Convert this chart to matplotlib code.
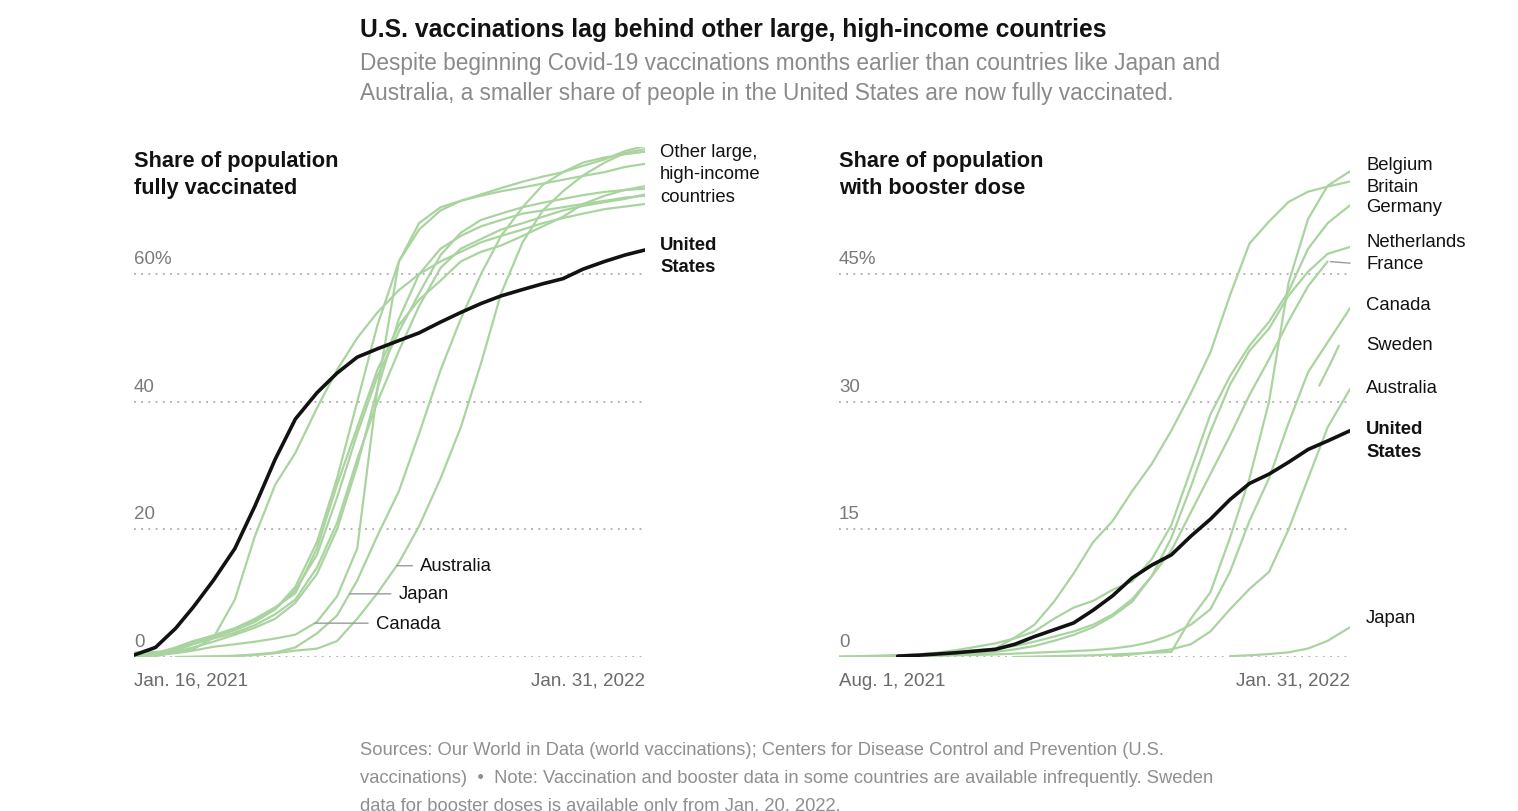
import matplotlib.pyplot as plt
import matplotlib.dates as mdates
import numpy as np
import pandas as pd

plt.rcParams['font.family'] = ['Liberation Sans', 'DejaVu Sans']

nan = np.nan

# ---- fully vaccinated (share of population, %) ----
full_dates = ['2021-01-16', '2021-02-01', '2021-02-16', '2021-03-01', '2021-03-16',
              '2021-04-01', '2021-04-16', '2021-05-01', '2021-05-16', '2021-06-01',
              '2021-06-16', '2021-07-01', '2021-07-16', '2021-08-01', '2021-08-16',
              '2021-09-01', '2021-09-16', '2021-10-01', '2021-10-16', '2021-11-01',
              '2021-11-16', '2021-12-01', '2021-12-16', '2022-01-01', '2022-01-16',
              '2022-01-31']
full_us = [0.3, 1.5, 4.5, 7.8, 12.0, 17.0, 23.7, 31.0, 37.3, 41.4, 44.5, 47.0, 48.3,
           49.6, 50.8, 52.5, 54.0, 55.4, 56.6, 57.6, 58.5, 59.3, 60.8, 62.0, 63.0, 63.8]
full_other = {
    'Britain': [0.7, 0.8, 0.9, 1.2, 3.0, 9.0, 19.0, 27.0, 32.0, 39.0, 45.0, 50.0, 54.0,
                57.5, 60.0, 62.0, 63.5, 65.0, 66.0, 67.0, 68.0, 68.8, 69.5, 70.2, 70.6, 71.0],
    'Canada': [0.1, 0.3, 0.6, 1.0, 1.6, 2.0, 2.4, 2.9, 3.5, 5.5, 9.5, 17.0, 42.0,
               62.0, 67.0, 70.0, 71.5, 72.5, 73.5, 74.5, 75.3, 76.0, 77.0, 78.0, 79.3, 80.1],
    'Japan': [nan, nan, 0.0, 0.05, 0.1, 0.2, 0.4, 0.7, 1.5, 3.7, 6.5, 12.0, 19.0,
              26.0, 35.0, 45.0, 53.0, 60.0, 66.0, 70.5, 74.0, 76.0, 77.5, 78.3, 78.8, 79.2],
    'Australia': [nan, nan, nan, 0.0, 0.05, 0.15, 0.3, 0.6, 1.0, 1.3, 2.5, 6.0, 10.0,
                  14.8, 20.5, 28.0, 36.0, 46.0, 57.0, 65.0, 70.0, 73.0, 75.5, 77.5, 79.0, 79.6],
    'Belgium': [0.0, 0.3, 1.2, 2.3, 3.2, 4.2, 5.5, 7.5, 11.0, 18.0, 28.0, 40.0, 52.0,
                62.0, 68.0, 70.5, 71.5, 72.3, 73.0, 73.6, 74.2, 74.8, 75.4, 76.0, 76.8, 77.3],
    'Germany': [0.2, 0.6, 1.5, 2.5, 3.3, 4.5, 6.0, 7.8, 10.0, 17.0, 27.0, 36.0, 45.0,
                52.0, 56.0, 59.0, 62.0, 63.5, 64.5, 66.0, 67.5, 69.0, 71.0, 72.3, 73.2, 73.8],
    'France': [0.0, 0.4, 1.3, 2.4, 3.4, 4.5, 5.8, 7.5, 10.5, 16.0, 25.0, 35.0, 44.0,
               51.0, 57.0, 63.0, 66.5, 68.5, 69.5, 70.5, 71.2, 71.8, 72.4, 72.9, 73.2, 73.4],
    'Netherlands': [0.0, 0.1, 0.8, 1.5, 2.4, 3.5, 4.6, 6.0, 8.5, 13.0, 20.0, 30.0, 42.0,
                    53.0, 60.0, 64.0, 66.0, 67.5, 68.5, 69.5, 70.0, 70.5, 71.0, 71.5, 72.0, 72.3],
    'Sweden': [0.1, 0.3, 1.0, 2.0, 2.9, 3.8, 5.0, 6.7, 9.0, 14.0, 21.0, 31.0, 40.0,
               48.0, 55.0, 61.0, 64.0, 65.5, 67.0, 68.0, 69.0, 70.0, 70.7, 71.3, 71.8, 72.5],
}
full_ticks = [0, 20, 40, 60]
full_tick_labels = ['0', '20', '40', '60%']
# (country, label date, label value)
full_callouts = [('Australia', '2021-08-17', 14.3),
                 ('Japan', '2021-08-01', 9.9),
                 ('Canada', '2021-07-15', 5.3)]

# ---- booster dose (share of population, %) ----
boost_dates = ['2021-08-01', '2021-08-08', '2021-08-15', '2021-08-22', '2021-08-29',
               '2021-09-05', '2021-09-12', '2021-09-19', '2021-09-26', '2021-10-03',
               '2021-10-10', '2021-10-17', '2021-10-24', '2021-10-31', '2021-11-07',
               '2021-11-14', '2021-11-21', '2021-11-28', '2021-12-05', '2021-12-12',
               '2021-12-19', '2021-12-26', '2022-01-02', '2022-01-09', '2022-01-16',
               '2022-01-23', '2022-01-31']
boost_us = [nan, nan, nan, 0.1, 0.2, 0.35, 0.5, 0.7, 0.9, 1.5, 2.4, 3.2, 4.0, 5.5,
            7.2, 9.3, 10.8, 12.0, 14.2, 16.2, 18.5, 20.4, 21.5, 22.9, 24.4, 25.4, 26.6]
boost_other = {
    'Britain': [nan, nan, nan, nan, nan, nan, nan, 0.3, 1.0, 2.3, 3.8, 6.5, 9.8, 13.5,
                16.0, 19.5, 22.7, 26.6, 31.0, 35.8, 42.5, 48.6, 51.2, 53.5, 54.7, 55.3, 55.9],
    'Belgium': [nan, nan, nan, nan, nan, nan, nan, nan, nan, 0.0, 0.05, 0.1, 0.15, 0.2,
                0.3, 0.4, 0.5, 0.6, 4.5, 7.6, 14.0, 21.0, 30.0, 44.0, 51.5, 55.4, 57.1],
    'Germany': [0.05, 0.1, 0.15, 0.2, 0.3, 0.5, 0.8, 1.2, 1.6, 2.2, 3.0, 4.5, 5.8, 6.6,
                7.9, 8.9, 11.5, 15.5, 22.0, 28.5, 33.0, 36.6, 39.4, 43.0, 48.0, 51.0, 53.1],
    'Netherlands': [0.0, 0.0, 0.05, 0.1, 0.15, 0.2, 0.3, 0.4, 0.6, 0.9, 1.3, 1.9, 2.6, 3.5,
                    4.8, 6.5, 9.5, 14.0, 20.0, 26.5, 32.0, 36.0, 38.6, 42.5, 45.3, 47.4, 48.2],
    'France': [0.0, 0.05, 0.1, 0.2, 0.3, 0.45, 0.6, 0.8, 1.0, 1.3, 1.8, 2.4, 3.0, 3.8,
               5.0, 6.8, 9.5, 12.5, 17.0, 21.5, 26.0, 30.8, 35.0, 39.5, 43.6, 46.5, nan],
    'Canada': [0.0, 0.0, 0.0, 0.05, 0.1, 0.15, 0.2, 0.25, 0.3, 0.4, 0.5, 0.6, 0.7, 0.8,
               1.0, 1.3, 1.8, 2.6, 3.8, 5.6, 10.0, 16.0, 21.0, 27.5, 33.5, 37.0, 41.0],
    'Australia': [nan, nan, nan, nan, nan, nan, nan, nan, nan, nan, nan, nan, nan, nan,
                  0.1, 0.3, 0.6, 0.9, 1.5, 3.0, 5.6, 8.0, 10.0, 15.0, 21.0, 27.0, 31.5],
    'Japan': [nan, nan, nan, nan, nan, nan, nan, nan, nan, nan, nan, nan, nan, nan,
              nan, nan, nan, nan, nan, nan, 0.1, 0.2, 0.35, 0.55, 1.0, 1.9, 3.5],
}
sweden_dates = ['2022-01-20', '2022-01-24', '2022-01-27']
sweden_boost = [31.9, 34.5, 36.6]
boost_ticks = [0, 15, 30, 45]
boost_tick_labels = ['0', '15', '30', '45%']
boost_labels = [('Belgium', 57.9), ('Britain', 55.3), ('Germany', 52.9),
                ('Netherlands', 48.8), ('France', 46.3), ('Canada', 41.4),
                ('Sweden', 36.7), ('Australia', 31.7), ('Japan', 4.6)]

GREEN = '#a9d49f'
BLACK = '#121212'
GRID = '#ababab'
PX = 0.72  # pixels -> points at dpi 100
LABEL_SIZE = 13.3

fig = plt.figure(figsize=(15.18, 8.12), dpi=100)
W, H = 1518, 812


def box(x0, x1, ytop, ybot):
    return [x0 / W, 1 - ybot / H, (x1 - x0) / W, (ybot - ytop) / H]


ax1 = fig.add_axes(box(134, 645, 147.6, 658))
ax2 = fig.add_axes(box(839, 1350, 147.6, 658))


def setup(ax, start, end, ymax, ticks, labels):
    ax.set_xlim(pd.Timestamp(start), pd.Timestamp(end))
    ax.set_ylim(0, ymax)
    ax.axis('off')
    for t, lab in zip(ticks, labels):
        ax.axhline(t, color=GRID, lw=1.3, ls=(0, (1, 3)), zorder=0)
        ax.annotate(lab, xy=(0, t), xycoords=('axes fraction', 'data'),
                    xytext=(0, 5), textcoords='offset points',
                    ha='left', va='bottom', fontsize=13.5, color='#7a7a7a')
    ax.annotate(pd.Timestamp(start).strftime('%b. %-d, %Y'), xy=(0, 0),
                xycoords='axes fraction', xytext=(0, -28 * PX),
                textcoords='offset points', ha='left', va='baseline',
                fontsize=13.5, color='#6a6a6a')
    ax.annotate(pd.Timestamp(end).strftime('%b. %-d, %Y'), xy=(1, 0),
                xycoords='axes fraction', xytext=(0, -28 * PX),
                textcoords='offset points', ha='right', va='baseline',
                fontsize=13.5, color='#6a6a6a')


def side_label(ax, y, text, bold=False, dx=15, step=22.5):
    for i, line in enumerate(text.split('\n')):
        ax.annotate(line, xy=(1, y), xycoords=('axes fraction', 'data'),
                    xytext=(dx * PX, -i * step * PX), textcoords='offset points',
                    ha='left', va='center', fontsize=LABEL_SIZE, color='#121212',
                    fontweight='bold' if bold else 'normal')


def panel_title(ax, text):
    for i, line in enumerate(text.split('\n')):
        ax.annotate(line, xy=(0, 1), xycoords='axes fraction',
                    xytext=(0, (-19.5 - 27 * i) * PX), textcoords='offset points',
                    ha='left', va='baseline', fontsize=15.7, fontweight='bold',
                    color=BLACK)


# ---- left panel ----
setup(ax1, '2021-01-16', '2022-01-31', 80, full_ticks, full_tick_labels)
fd = pd.to_datetime(full_dates)
for name, vals in full_other.items():
    ax1.plot(fd, vals, color=GREEN, lw=1.6, solid_joinstyle='round',
             solid_capstyle='round', zorder=2)
ax1.plot(fd, full_us, color=BLACK, lw=2.6, solid_joinstyle='round',
         solid_capstyle='round', zorder=3)

for name, dstr, val in full_callouts:
    v = np.array(full_other[name])
    ok = ~np.isnan(v)
    xs = mdates.date2num(fd[ok])
    x0 = np.interp(val, v[ok], xs)
    xt = mdates.date2num(pd.Timestamp(dstr))
    ax1.annotate('', xy=(x0, val), xytext=(xt, val), xycoords='data',
                 arrowprops=dict(arrowstyle='-', color='#9a9a9a', lw=1.0,
                                 shrinkA=8 * PX, shrinkB=0))
    ax1.text(xt, val, name, ha='left', va='center', fontsize=LABEL_SIZE, color='#121212')

side_label(ax1, 79.3, 'Other large,\nhigh-income\ncountries')
side_label(ax1, 64.7, 'United\nStates', bold=True)
panel_title(ax1, 'Share of population\nfully vaccinated')

# ---- right panel ----
setup(ax2, '2021-08-01', '2022-01-31', 60, boost_ticks, boost_tick_labels)
bd = pd.to_datetime(boost_dates)
for name, vals in boost_other.items():
    ax2.plot(bd, vals, color=GREEN, lw=1.6, solid_joinstyle='round',
             solid_capstyle='round', zorder=2)
ax2.plot(pd.to_datetime(sweden_dates), sweden_boost, color=GREEN, lw=1.6,
         solid_capstyle='round', zorder=2)
ax2.plot(bd, boost_us, color=BLACK, lw=2.6, solid_joinstyle='round',
         solid_capstyle='round', zorder=3)

# France data stops early: leader line from its last point to the label
fr = np.array(boost_other['France'])
last = np.where(~np.isnan(fr))[0][-1]
ax2.annotate('', xy=(bd[last], fr[last]), xycoords='data',
             xytext=(1, 46.3), textcoords=('axes fraction', 'data'),
             arrowprops=dict(arrowstyle='-', color='#9a9a9a', lw=1.0,
                             shrinkA=0, shrinkB=2))

for name, y in boost_labels:
    side_label(ax2, y, name, dx=16)
side_label(ax2, 26.9, 'United\nStates', bold=True, dx=16, step=23)
panel_title(ax2, 'Share of population\nwith booster dose')

# ---- headline, subtitle, footer ----
fig.text(360 / W, 1 - 37 / H, 'U.S. vaccinations lag behind other large, high-income countries',
         ha='left', va='baseline', fontsize=17.7, fontweight='bold', color=BLACK)
fig.text(360 / W, 1 - 70 / H,
         'Despite beginning Covid-19 vaccinations months earlier than countries like Japan and',
         ha='left', va='baseline', fontsize=16.3, color='#8a8a8a')
fig.text(360 / W, 1 - 100 / H,
         'Australia, a smaller share of people in the United States are now fully vaccinated.',
         ha='left', va='baseline', fontsize=16.3, color='#8a8a8a')

foot = ['Sources: Our World in Data (world vaccinations); Centers for Disease Control and Prevention (U.S.',
        'vaccinations)  \u2022  Note: Vaccination and booster data in some countries are available infrequently. Sweden',
        'data for booster doses is available only from Jan. 20, 2022.']
for i, line in enumerate(foot):
    fig.text(360 / W, 1 - (755 + 28 * i) / H, line, ha='left', va='baseline',
             fontsize=13.2, color='#8f8f8f')

fig.savefig('out.png', dpi=100)
